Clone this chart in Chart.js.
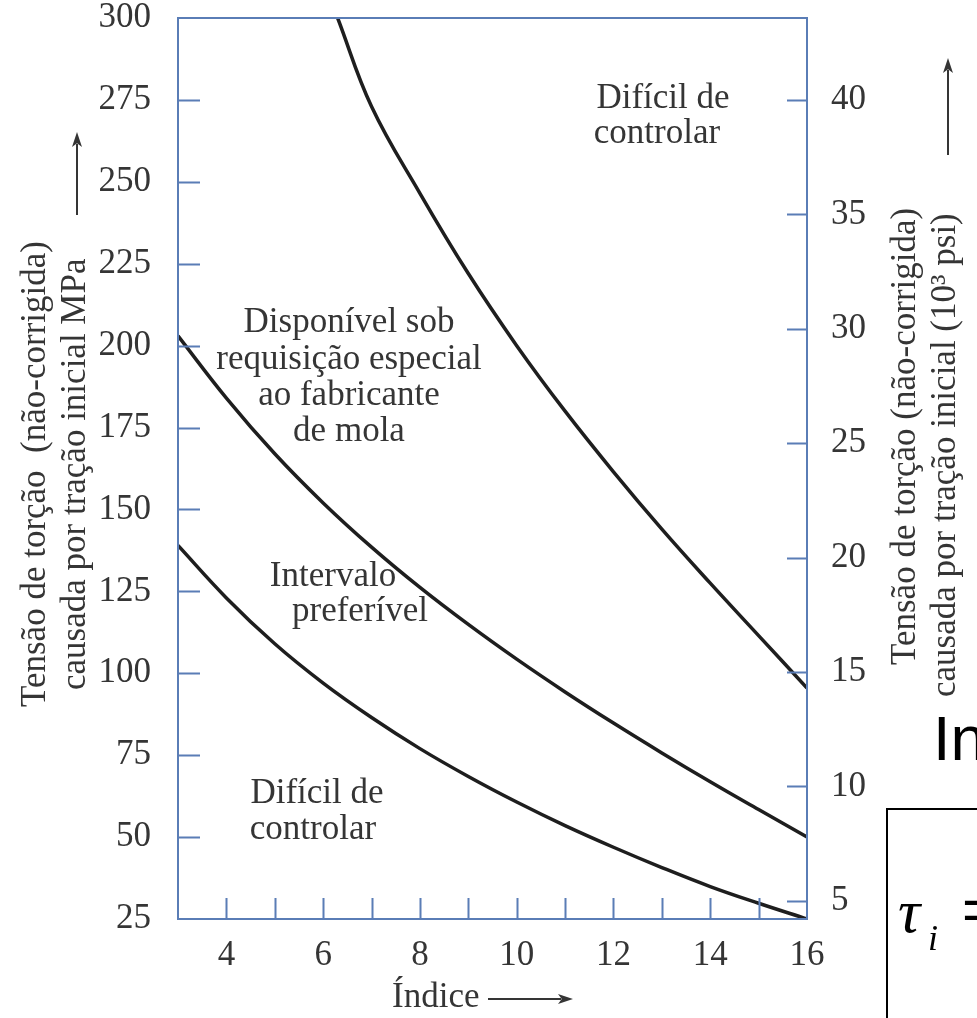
<!DOCTYPE html>
<html>
<head>
<meta charset="utf-8">
<script src="https://cdn.jsdelivr.net/npm/chart.js@4.4.1/dist/chart.umd.min.js"></script>
<style>
  html, body { margin: 0; padding: 0; background: #fff; overflow: hidden; }
  #wrap { position: relative; width: 977px; height: 1018px; }
</style>
</head>
<body>
<div id="wrap"><canvas id="chart" width="977" height="1018"></canvas></div>
<script>
// spring index C and the three limit curves (MPa)
const indexC = [3, 4, 5, 6, 7, 8, 9, 10, 11, 12, 13, 14, 15, 16];
const lowerMPa = [139, 123, 109, 97, 86.5, 77, 68.5, 60.7, 53.5, 46.9, 40.7, 34.9, 29.8, 25];
const upperMPa = [203, 184, 167, 152, 138.5, 126.2, 114.9, 104.3, 94.3, 84.8, 75.7, 66.9, 58.4, 50];
const topC = [6.3, 7, 8, 9, 10, 11, 12, 13, 14, 15, 16];
const topMPa = [300, 273, 246.5, 222, 200, 180, 161.5, 144, 127.5, 111.5, 95.5];

// axes
const indexTicks = [3, 4, 5, 6, 7, 8, 9, 10, 11, 12, 13, 14, 15, 16];
const indexLabels = [4, 6, 8, 10, 12, 14, 16];
const mpaTicks = [25, 50, 75, 100, 125, 150, 175, 200, 225, 250, 275, 300];
const ksiTicks = [5, 10, 15, 20, 25, 30, 35, 40];

// texts
const leftTitle = ['Tensão de torção  (não-corrigida)', 'causada por tração inicial MPa'];
const rightTitle = ['Tensão de torção (não-corrigida)', 'causada por tração inicial (10³ psi)'];
const xTitle = 'Índice';
const noteHardTop = ['Difícil de', 'controlar'];
const noteSpecial = ['Disponível sob', 'requisição especial', 'ao fabricante', 'de mola'];
const notePreferred = ['Intervalo', 'preferível'];
const noteHardBottom = ['Difícil de', 'controlar'];

const serif = '"Liberation Serif", "Times New Roman", serif';
const sans = '"Liberation Sans", Arial, sans-serif';
const axisBlue = '#5a7db6';
const ink = '#353535';

const pts = (xs, ys) => xs.map((x, i) => ({ x: x, y: ys[i] }));

function arrow(ctx, x1, y1, x2, y2) {
  const ang = Math.atan2(y2 - y1, x2 - x1);
  const len = 15, w = 5;
  ctx.beginPath();
  ctx.moveTo(x1, y1);
  ctx.lineTo(x2 - Math.cos(ang) * len * 0.8, y2 - Math.sin(ang) * len * 0.8);
  ctx.stroke();
  ctx.beginPath();
  ctx.moveTo(x2, y2);
  ctx.lineTo(x2 - Math.cos(ang) * len + Math.sin(ang) * w, y2 - Math.sin(ang) * len - Math.cos(ang) * w);
  ctx.lineTo(x2 - Math.cos(ang) * len * 0.75, y2 - Math.sin(ang) * len * 0.75);
  ctx.lineTo(x2 - Math.cos(ang) * len - Math.sin(ang) * w, y2 - Math.sin(ang) * len + Math.cos(ang) * w);
  ctx.closePath();
  ctx.fill();
}

function upText(ctx, text, x, y) {
  ctx.save();
  ctx.translate(x, y);
  ctx.rotate(-Math.PI / 2);
  ctx.textAlign = 'left';
  ctx.textBaseline = 'alphabetic';
  ctx.fillText(text, 0, 0);
  ctx.restore();
}

function lines(ctx, list, xs, ys) {
  list.forEach((t, i) => ctx.fillText(t, xs[i], ys[i]));
}

const decor = {
  id: 'decor',
  afterDatasetsDraw(chart) {
    const { ctx, chartArea: a, scales } = chart;
    ctx.save();

    // frame and inward ticks
    ctx.strokeStyle = axisBlue;
    ctx.lineWidth = 2;
    ctx.strokeRect(a.left, a.top, a.right - a.left, a.bottom - a.top);
    ctx.beginPath();
    mpaTicks.slice(1, -1).forEach(v => {
      const y = Math.round(scales.y.getPixelForValue(v)) + 0.5;
      ctx.moveTo(a.left, y); ctx.lineTo(a.left + 22, y);
    });
    ksiTicks.forEach(v => {
      const y = Math.round(scales.y2.getPixelForValue(v)) + 0.5;
      ctx.moveTo(a.right, y); ctx.lineTo(a.right - 20, y);
    });
    indexTicks.slice(1, -1).forEach(v => {
      const x = Math.round(scales.x.getPixelForValue(v)) + 0.5;
      ctx.moveTo(x, a.bottom); ctx.lineTo(x, a.bottom - 21);
    });
    ctx.stroke();

    // axis titles
    ctx.fillStyle = ink;
    ctx.strokeStyle = ink;
    ctx.lineWidth = 2;
    ctx.font = '35px ' + serif;
    upText(ctx, leftTitle[0], 45, 707);
    upText(ctx, leftTitle[1], 85, 690);
    upText(ctx, rightTitle[0], 915, 665);
    upText(ctx, rightTitle[1], 955, 697);
    arrow(ctx, 77, 215, 77, 132);
    arrow(ctx, 948, 155, 948, 58);
    ctx.textAlign = 'left';
    ctx.fillText(xTitle, 392, 1007);
    arrow(ctx, 488, 999, 573, 999);

    // region notes
    ctx.textAlign = 'center';
    lines(ctx, noteHardTop, [663, 657], [108, 143]);
    lines(ctx, noteSpecial, [349, 349, 349, 349], [332, 369, 405, 441]);
    lines(ctx, notePreferred, [333, 360], [586, 621]);
    lines(ctx, noteHardBottom, [317, 313], [803, 839]);

    // slide content beside the figure
    ctx.textAlign = 'left';
    ctx.fillStyle = '#000';
    ctx.font = '63px ' + sans;
    ctx.fillText('In', 933, 760);
    ctx.strokeStyle = '#000';
    ctx.strokeRect(887, 809, 200, 300);
    ctx.font = 'italic 62px ' + serif;
    ctx.fillText('τ', 898, 932);
    ctx.font = 'italic 36px ' + serif;
    ctx.fillText('i', 928, 950);
    ctx.font = '60px ' + sans;
    ctx.fillText('=', 962, 930);
    ctx.restore();
  }
};

const curve = data => ({
  data: data,
  borderColor: '#1e1e1e',
  borderWidth: 3.5,
  pointRadius: 0,
  fill: false,
  tension: 0.4
});

const tickFont = { family: serif, size: 35 };

function fixSize(prop, val) {
  return s => {
    s[prop] = val;
    s.paddingTop = 0; s.paddingBottom = 0; s.paddingLeft = 0; s.paddingRight = 0;
  };
}

new Chart(document.getElementById('chart'), {
  type: 'line',
  data: {
    datasets: [
      curve(pts(indexC, lowerMPa)),
      curve(pts(indexC, upperMPa)),
      curve(pts(topC, topMPa))
    ]
  },
  options: {
    responsive: false,
    animation: false,
    layout: { padding: { top: 18, left: 0, right: 0, bottom: 0 } },
    plugins: { legend: { display: false }, tooltip: { enabled: false } },
    scales: {
      x: {
        type: 'linear', min: 3, max: 16,
        grid: { display: false },
        border: { display: false },
        afterBuildTicks: s => { s.ticks = indexTicks.map(v => ({ value: v })); },
        afterFit: fixSize('height', 99),
        ticks: {
          font: tickFont, color: ink, padding: 8, maxRotation: 0, autoSkip: false,
          callback: v => (indexLabels.includes(v) ? String(v) : '')
        }
      },
      y: {
        position: 'left', min: 25, max: 300,
        grid: { display: false },
        border: { display: false },
        afterBuildTicks: s => { s.ticks = mpaTicks.map(v => ({ value: v })); },
        afterFit: fixSize('width', 178),
        ticks: { font: tickFont, color: ink, padding: 19, autoSkip: false }
      },
      y2: {
        position: 'right', min: 4.21, max: 43.58,
        grid: { display: false },
        border: { display: false },
        afterBuildTicks: s => { s.ticks = ksiTicks.map(v => ({ value: v })); },
        afterFit: fixSize('width', 170),
        ticks: { font: tickFont, color: ink, padding: 16, autoSkip: false }
      }
    }
  },
  plugins: [decor]
});
</script>
</body>
</html>
